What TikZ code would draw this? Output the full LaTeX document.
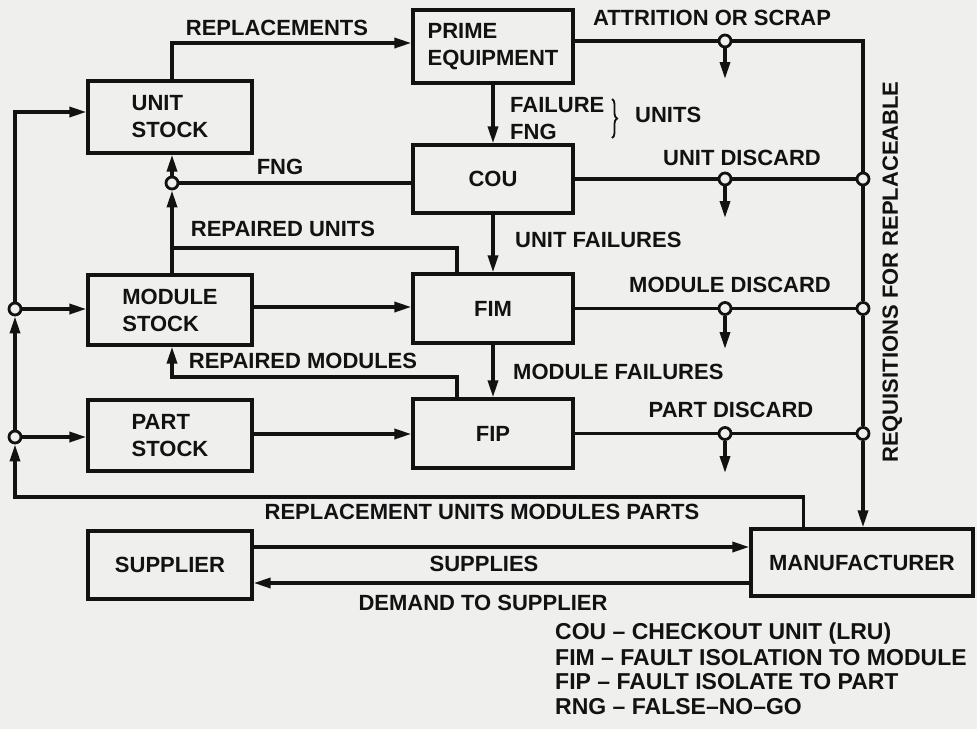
\documentclass[tikz,border=0pt]{standalone}
\usepackage{fontspec}
\setmainfont{Liberation Sans}
\usetikzlibrary{arrows.meta,decorations.pathreplacing,calc}
\definecolor{bg}{RGB}{239,239,237}
\definecolor{ink}{RGB}{18,18,18}
\begin{document}
\begin{tikzpicture}[x=1pt,y=-1pt,
  every node/.style={font=\fontsize{22}{27}\selectfont\bfseries, text=ink},
  box/.style={draw=ink, line width=3.3pt, inner sep=0pt, align=left},
  line/.style={draw=ink, line width=3.4pt},
  arr/.style={line, -{Triangle[length=17pt,width=10pt]}},
  junc/.style={circle, draw=ink, fill=bg, line width=2.8pt, minimum size=12pt, inner sep=0pt},
  lab/.style={inner sep=0pt, text height=15.8pt, text depth=0pt},
  leg/.style={lab, anchor=west, font=\fontsize{23}{27}\selectfont\bfseries}]
\fill[bg] (0,0) rectangle (977,729);
\useasboundingbox (0,0) rectangle (977,729);

% boxes
\node[box, minimum width=164pt, minimum height=72pt] (ustock) at (170,117) {UNIT\\STOCK};
\node[box, minimum width=160pt, minimum height=73pt] (prime) at (493,46.5) {PRIME\\EQUIPMENT};
\node[box, minimum width=160pt, minimum height=68pt] (cou) at (493,179) {COU};
\node[box, minimum width=164pt, minimum height=70pt] (mstock) at (170,310) {MODULE\\STOCK};
\node[box, minimum width=160pt, minimum height=69pt] (fim) at (493,308.5) {FIM};
\node[box, minimum width=164pt, minimum height=71pt] (pstock) at (170,435.5) {PART\\STOCK};
\node[box, minimum width=160pt, minimum height=69pt] (fip) at (493,433.5) {FIP};
\node[box, minimum width=164pt, minimum height=68pt] (supp) at (170,565) {SUPPLIER};
\node[box, minimum width=222pt, minimum height=67pt] (manu) at (862,562.5) {MANUFACTURER};

% junctions
\node[junc] (jm) at (15,309) {};
\node[junc] (jp) at (15,437) {};
\node[junc] (ju) at (172,183) {};
\node[junc] (a1) at (725,41) {};
\node[junc] (a2) at (725,179) {};
\node[junc] (a3) at (725,308.5) {};
\node[junc] (a4) at (725,433.5) {};
\node[junc] (r2) at (863,179) {};
\node[junc] (r3) at (863,308.5) {};
\node[junc] (r4) at (863,433.5) {};
\coordinate (rt) at (863,41);
\coordinate (d1) at (725,79);
\coordinate (d2) at (725,218);
\coordinate (d3) at (725,349);
\coordinate (d4) at (725,473);
\coordinate (bl) at (15,497);
\coordinate (ru) at (172,248);
\coordinate (rm) at (172,377);

% left bus
\draw[arr] (jp) -- (jm);
\draw[arr] (jm) |- ([yshift=5pt]ustock.west);
\draw[arr] (jm) -- (jm -| mstock.west);
\draw[arr] (jp) -- (jp -| pstock.west);
\draw[arr] ([xshift=54pt]manu.north west) |- (bl) -- (jp);

% unit stock / prime
\draw[arr] ([xshift=2pt]ustock.north) |- ([yshift=3.5pt]prime.west);
\draw[arr] (prime) -- (cou);
\draw[line] ([yshift=-4pt]cou.west) -- (ju);
\draw[arr] (ju) -- (ju |- ustock.south);
\draw[arr] (ju |- mstock.north) -- (ju);
\draw[line] ([xshift=-36pt]fim.north) |- (ru);
\draw[arr] (cou) -- (fim);
\draw[arr] (fim) -- (fip);
\draw[arr] ([xshift=-36pt]fip.north) |- (rm) -- (rm |- mstock.south);
\draw[arr] ([yshift=3pt]mstock.east) -- ([yshift=3pt]mstock.east -| fim.west);
\draw[arr] ([yshift=1.5pt]pstock.east) -- ([yshift=1.5pt]pstock.east -| fip.west);

% discard lines
\draw[line] ([yshift=5.5pt]prime.east) -- (a1) -- (rt) -- (r2);
\draw[line] (cou.east) -- (a2) -- (r2);
\draw[line] (fim.east) -- (a3) -- (r3);
\draw[line] (fip.east) -- (a4) -- (r4);
\draw[line] (r2) -- (r3);
\draw[line] (r3) -- (r4);
\draw[arr] (r4) -- (r4 |- manu.north);
\draw[arr] (a1) -- (d1);
\draw[arr] (a2) -- (d2);
\draw[arr] (a3) -- (d3);
\draw[arr] (a4) -- (d4);

% supplier
\draw[arr] ([yshift=18pt]supp.east) -- ([yshift=18pt]supp.east -| manu.west);
\draw[arr] ([yshift=-18pt]supp.east -| manu.west) -- ([yshift=-18pt]supp.east);

% labels
\node[lab] (lrepl) at (277,28) {REPLACEMENTS};
\node[lab] (lattr) at (712,18) {ATTRITION OR SCRAP};
\node[lab, anchor=west] (lfail) at (510,105) {FAILURE};
\node[lab, anchor=west] (lfng) at (510,132) {FNG};
\draw[ink, line width=1.8pt, decorate, decoration={brace, amplitude=5pt}] (612,99) -- (612,138);
\node[lab, anchor=west] (lunits) at (635,115) {UNITS};
\node[lab] (lfng2) at (280,167) {FNG};
\node[lab] (lud) at (742,158) {UNIT DISCARD};
\node[lab] (lru) at (283,229) {REPAIRED UNITS};
\node[lab, anchor=west] (luf) at (515,240) {UNIT FAILURES};
\node[lab] (lmd) at (730,285) {MODULE DISCARD};
\node[lab] (lrm) at (303,361) {REPAIRED MODULES};
\node[lab, anchor=west] (lmf) at (513,372) {MODULE FAILURES};
\node[lab] (lpd) at (731,410) {PART DISCARD};
\node[lab] (lrep) at (482,512) {REPLACEMENT UNITS MODULES PARTS};
\node[lab] (lsup) at (484,564) {SUPPLIES};
\node[lab] (ldem) at (483,603) {DEMAND TO SUPPLIER};
\node[lab, rotate=90] (lreq) at (890,272) {REQUISITIONS FOR REPLACEABLE};

% legend
\node[leg] (g1) at (555,632) {COU – CHECKOUT UNIT (LRU)};
\node[leg] (g2) at (555,658) {FIM – FAULT ISOLATION TO MODULE};
\node[leg] (g3) at (555,682) {FIP – FAULT ISOLATE TO PART};
\node[leg] (g4) at (555,707) {RNG – FALSE–NO–GO};
\end{tikzpicture}
\end{document}
